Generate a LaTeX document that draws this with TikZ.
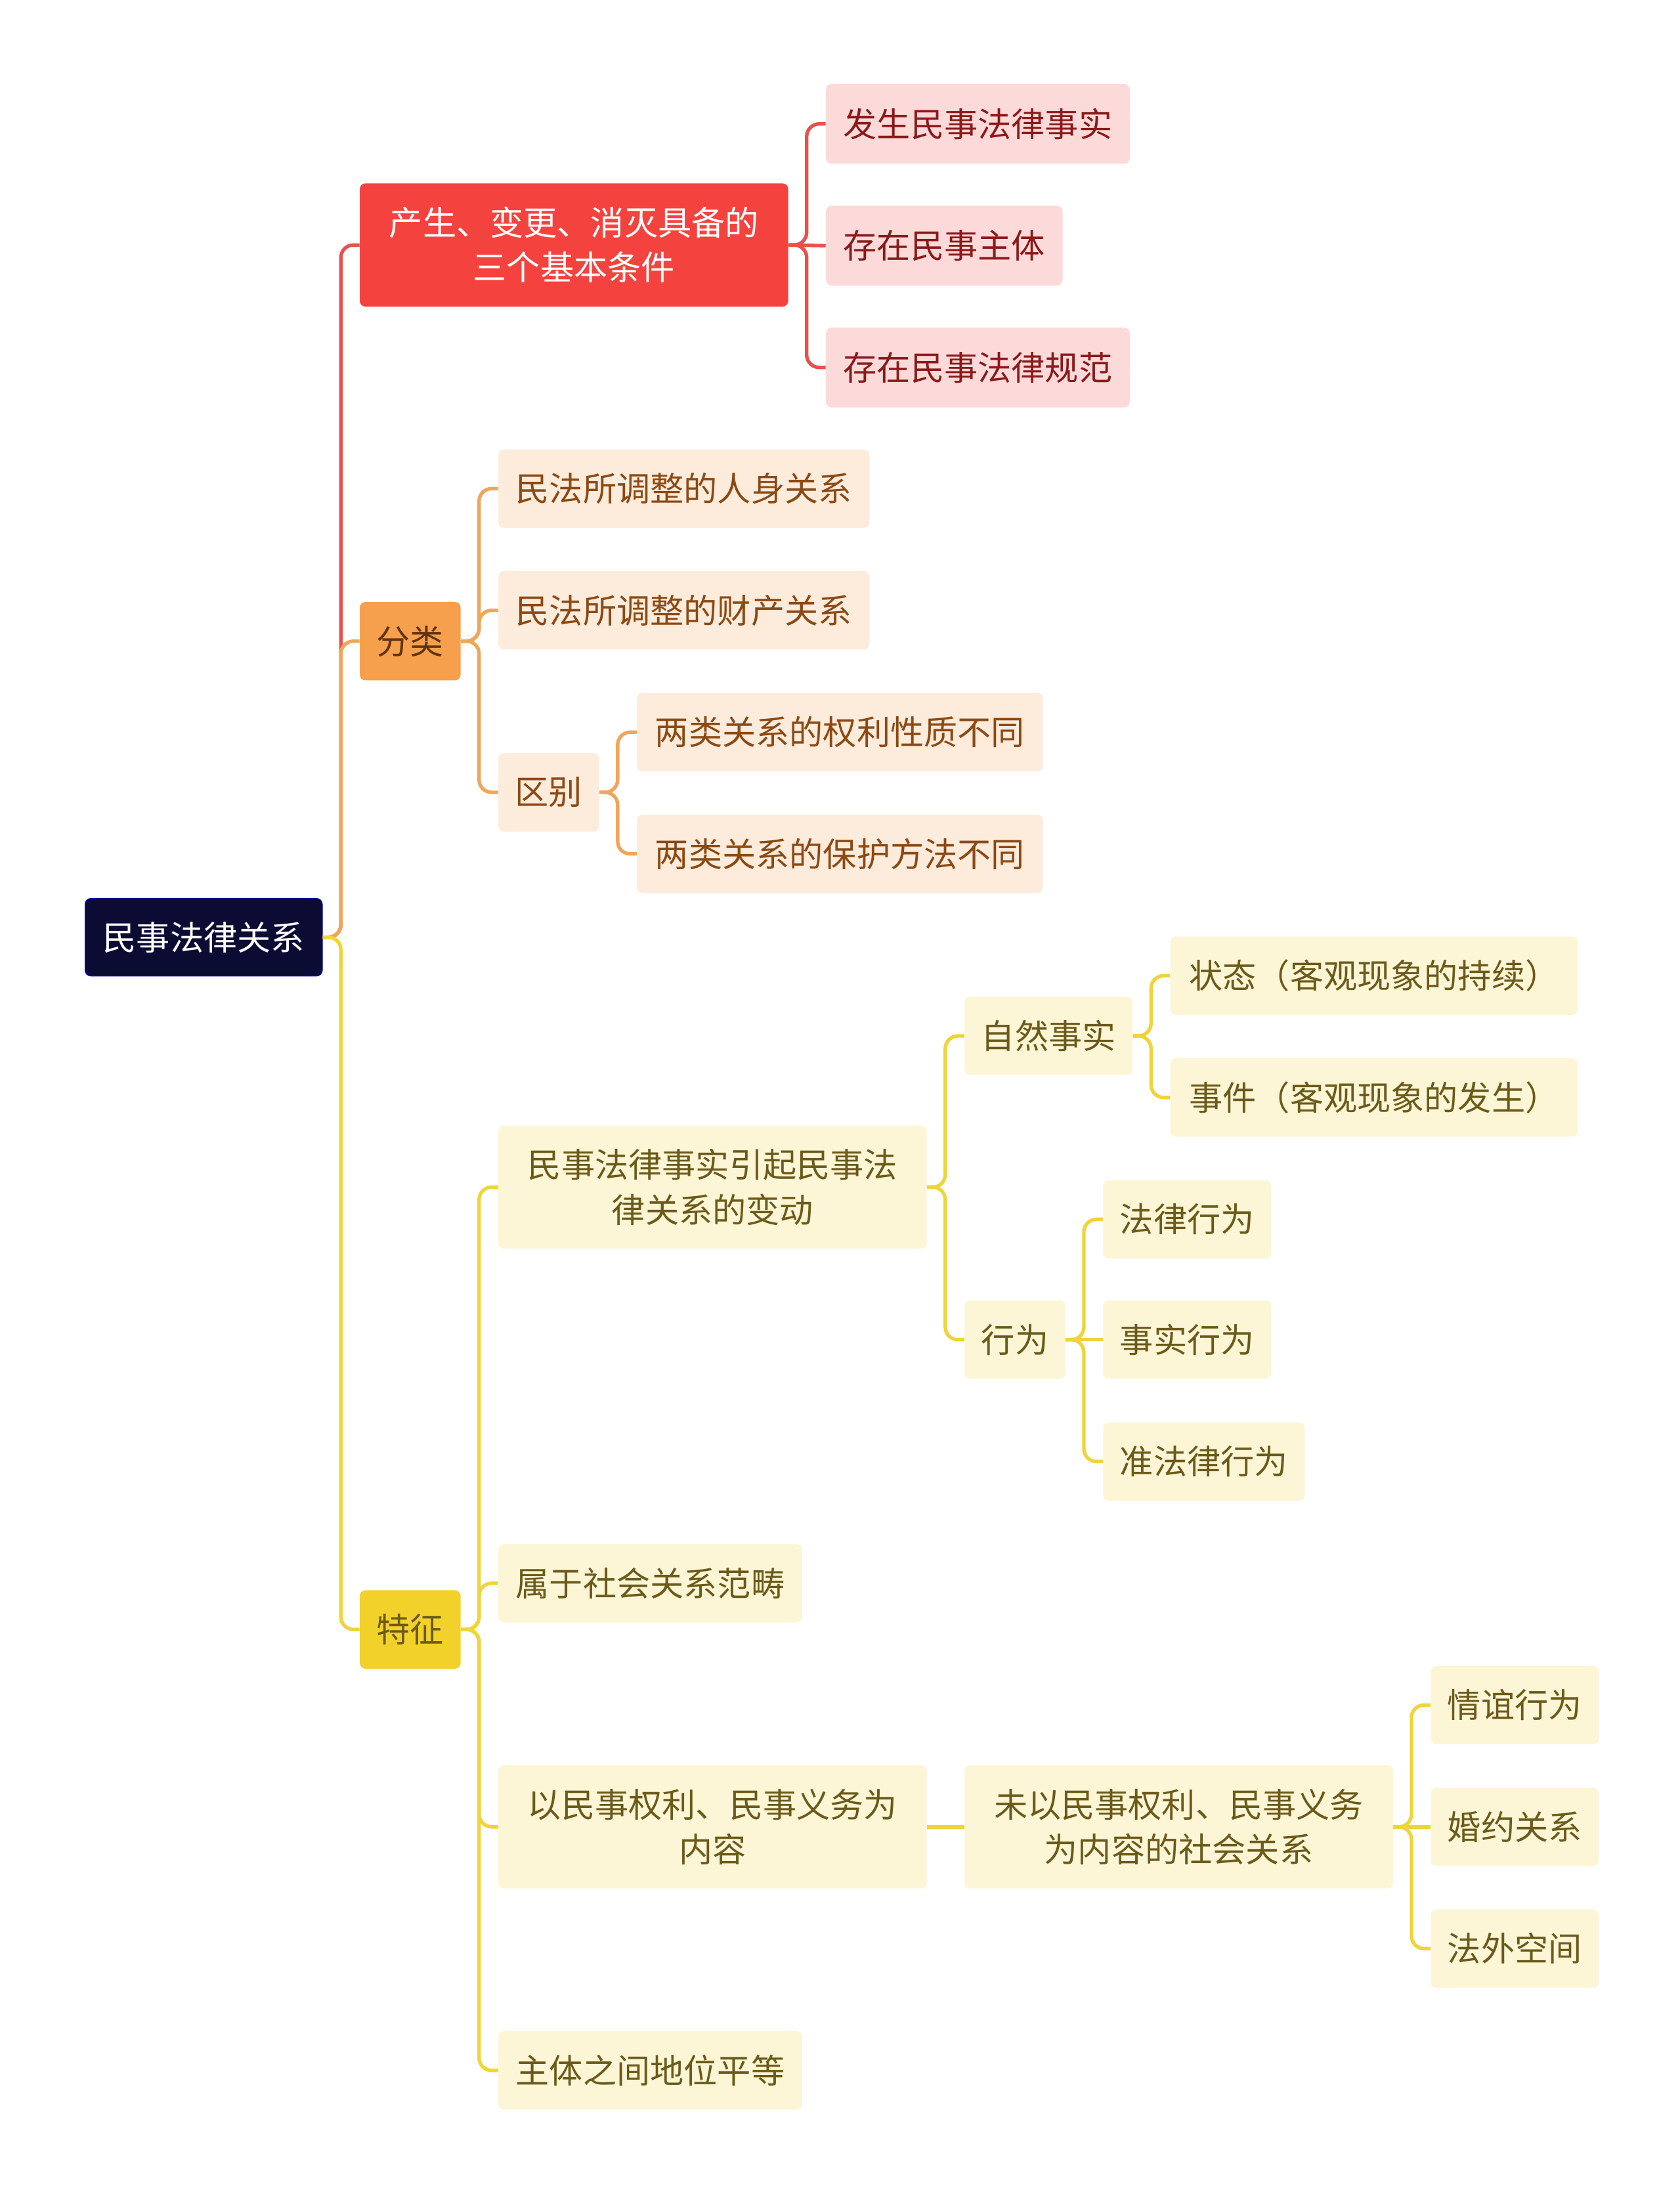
\documentclass[tikz,border=0pt]{standalone}
\usepackage{fontspec}
\setmainfont{Noto Sans CJK SC}
\usetikzlibrary{calc}
\definecolor{cred}{HTML}{F4433F}\definecolor{cpink}{HTML}{FDDADA}\definecolor{tred}{HTML}{8B1A1A}
\definecolor{corg}{HTML}{F6A04D}\definecolor{cporg}{HTML}{FDEBDC}\definecolor{torg}{HTML}{8B4A14}
\definecolor{cyel}{HTML}{F2D12B}\definecolor{cpyel}{HTML}{FDF6D6}\definecolor{tyel}{HTML}{6B5A1A}
\definecolor{croot}{HTML}{0B0B33}\definecolor{lred}{HTML}{E8504C}\definecolor{lorg}{HTML}{F0A65A}\definecolor{lyel}{HTML}{EFD43A}
\newcommand{\nd}[7]{\node[box,#6,minimum width={(#4-#2)*1pt},minimum height={(#5-#3)*1pt}] (#1) at ({(#2+#4)/2},{(#3+#5)/2}) {#7};}
\begin{document}
\begin{tikzpicture}[x=1pt,y=-1pt,
 box/.style={rounded corners=4pt,inner sep=0pt,align=center,font=\fontsize{24}{32}\selectfont},
 rt/.style={fill=croot,draw=blue!60!black,line width=1pt,text=white},
 rd/.style={fill=cred,text=white},pk/.style={fill=cpink,text=tred},
 og/.style={fill=corg,text=torg!70!black},po/.style={fill=cporg,text=torg},
 yl/.style={fill=cyel,text=tyel},py/.style={fill=cpyel,text=tyel},
 ln/.style={line width=2.5pt,rounded corners=9pt}]
\fill[white] (0,0) rectangle (1200,1563);
\nd{root}{61}{642}{230}{697}{rt}{民事法律关系}
\nd{red}{257}{131}{563}{219}{rd}{产生、变更、消灭具备的\\三个基本条件}
\nd{r1}{590}{60}{807}{117}{pk}{发生民事法律事实}
\nd{r2}{590}{147}{759}{204}{pk}{存在民事主体}
\nd{r3}{590}{234}{807}{291}{pk}{存在民事法律规范}
\nd{fl}{257}{430}{329}{486}{og}{分类}
\nd{o1}{356}{321}{621}{377}{po}{民法所调整的人身关系}
\nd{o2}{356}{408}{621}{464}{po}{民法所调整的财产关系}
\nd{qb}{356}{538}{428}{594}{po}{区别}
\nd{q1}{455}{495}{745}{551}{po}{两类关系的权利性质不同}
\nd{q2}{455}{582}{745}{638}{po}{两类关系的保护方法不同}
\nd{tz}{257}{1136}{329}{1192}{yl}{特征}
\nd{y1}{356}{804}{662}{892}{py}{民事法律事实引起民事法\\律关系的变动}
\nd{y2}{356}{1103}{573}{1159}{py}{属于社会关系范畴}
\nd{y3}{356}{1261}{662}{1349}{py}{以民事权利、民事义务为\\内容}
\nd{y4}{356}{1451}{573}{1507}{py}{主体之间地位平等}
\nd{zr}{689}{712}{809}{768}{py}{自然事实}
\nd{xw}{689}{929}{761}{985}{py}{行为}
\nd{z1}{836}{669}{1127}{725}{py}{状态（客观现象的持续）}
\nd{z2}{836}{756}{1127}{812}{py}{事件（客观现象的发生）}
\nd{x1}{788}{843}{908}{899}{py}{法律行为}
\nd{x2}{788}{929}{908}{985}{py}{事实行为}
\nd{x3}{788}{1016}{932}{1072}{py}{准法律行为}
\nd{wy}{689}{1261}{995}{1349}{py}{未以民事权利、民事义务\\为内容的社会关系}
\nd{w1}{1022}{1190}{1142}{1246}{py}{情谊行为}
\nd{w2}{1022}{1277}{1142}{1333}{py}{婚约关系}
\nd{w3}{1022}{1364}{1142}{1420}{py}{法外空间}
\newcommand{\con}[3]{\foreach \c in {#2}{\draw[ln,#3] (#1.east) -- ($(#1.east)+(13,0)$) |- (\c.west);}}
\newcommand{\str}[3]{\draw[line width=2.5pt,#3] (#1.east) -- (#2.west);}
\con{root}{red}{lred}
\con{root}{fl}{lorg}
\con{root}{tz}{lyel}
\con{red}{r1,r3}{lred}\str{red}{r2}{lred}
\con{fl}{o1,o2,qb}{lorg}
\con{qb}{q1,q2}{lorg}
\con{tz}{y1,y2,y3,y4}{lyel}
\con{y1}{zr,xw}{lyel}
\con{zr}{z1,z2}{lyel}
\con{xw}{x1,x3}{lyel}\str{xw}{x2}{lyel}
\str{y3}{wy}{lyel}
\con{wy}{w1,w3}{lyel}\str{wy}{w2}{lyel}
\end{tikzpicture}
\end{document}
